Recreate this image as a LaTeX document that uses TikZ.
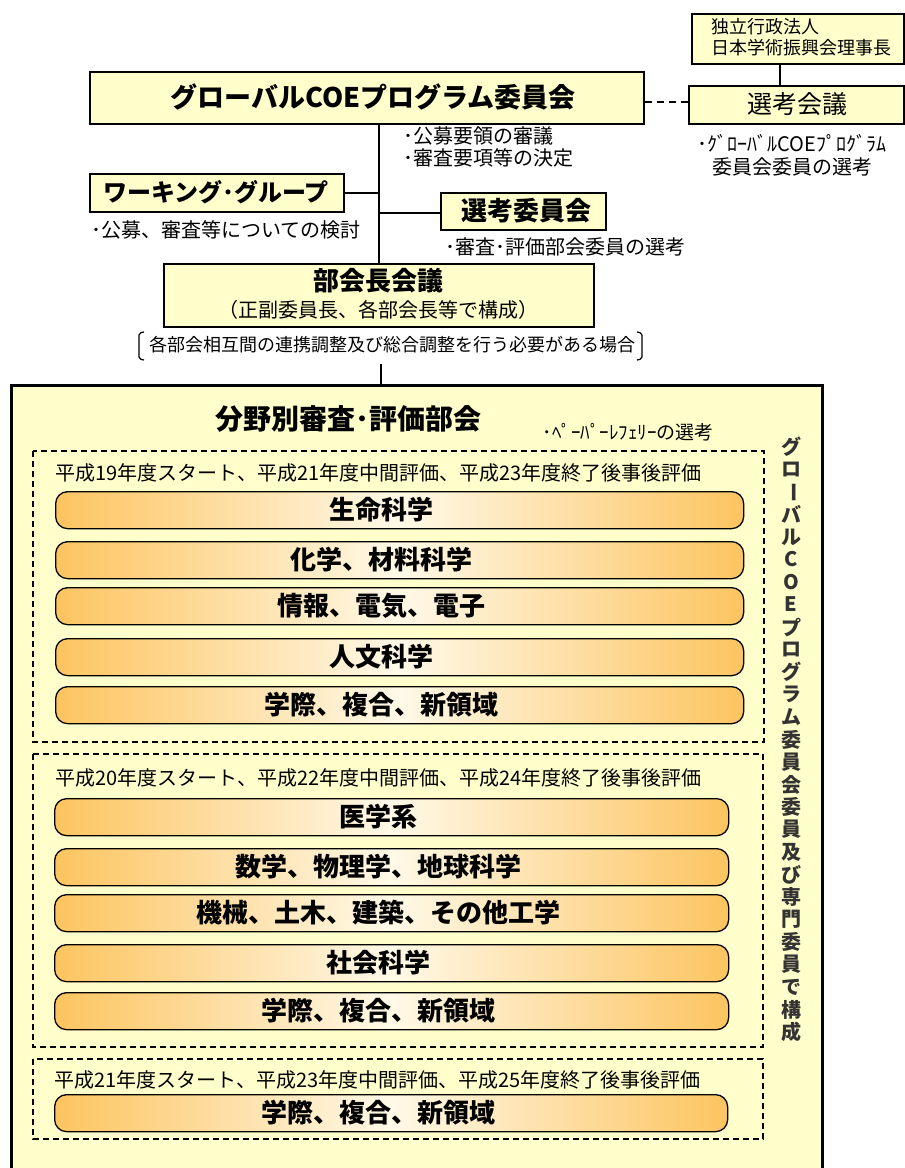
\documentclass[tikz,border=0pt]{standalone}
\usepackage{fontspec}
\usepackage{graphicx}
\setmainfont{Noto Sans CJK JP}
\definecolor{boxfill}{RGB}{255,255,204}
\definecolor{capor}{RGB}{252,196,96}
\definecolor{caplight}{RGB}{255,249,232}
\newcommand{\fs}[1]{\fontsize{#1}{#1}\selectfont}
\tikzset{
  ybox/.style={draw=black, line width=2.2pt, fill=boxfill, inner sep=0pt, anchor=north west},
  capsule/.style={draw=black, line width=1.3pt, rounded corners=12pt, left color=capor, right color=capor, middle color=caplight, inner sep=0pt, anchor=north west, minimum height=37pt},
  dbox/.style={draw=black, line width=1.2pt, dash pattern=on 6pt off 4pt},
  conn/.style={draw=black, line width=2pt},
  note/.style={inner sep=0pt, font=\fs{20}},
  caplbl/.style={inner sep=0pt, font=\fs{26}\bfseries},
  titlelbl/.style={inner sep=0pt, font=\fs{26}\bfseries},
}
\begin{document}
\begin{tikzpicture}[x=1pt,y=-1pt]
\useasboundingbox (0,0) rectangle (905,1168);
\clip (0,0) rectangle (905,1168);

% top boxes
\node[ybox, minimum width=212pt, minimum height=50pt] (jsps) at (691,13) {};
\node[inner sep=0pt, anchor=west, align=left, font=\fontsize{18}{21}\selectfont] (jspst) at (711,37) {独立行政法人\\日本学術振興会理事長};
\node[ybox, minimum width=215pt, minimum height=38pt] (senkou) at (688,85) {};
\node[inner sep=0pt, font=\fs{25}] (senkout) at (797,104) {選考会議};
\node[ybox, minimum width=554pt, minimum height=52pt] (gcoe) at (89,71) {};
\node[inner sep=0pt, font=\fs{27}\bfseries] (gcoet) at (373,97) {グローバルCOEプログラム委員会};

\node[note, anchor=west] (n1) at (403,136) {･公募要領の審議};
\node[note, anchor=west] (n2) at (403,158) {･審査要項等の決定};
\node[note] (n3) at (792,143) {･ｸﾞﾛｰﾊﾞﾙCOEﾌﾟﾛｸﾞﾗﾑ};
\node[note] (n4) at (792,167) {委員会委員の選考};

\node[ybox, minimum width=254pt, minimum height=38pt] (wg) at (89,173) {};
\node[titlelbl, font=\fs{24}\bfseries] (wgt) at (216,192) {ワーキング･グループ};
\node[note, anchor=west] (n5) at (91,230) {･公募、審査等についての検討};

\node[ybox, minimum width=165pt, minimum height=37pt] (senkoui) at (440,192) {};
\node[titlelbl] (senkouit) at (526,211) {選考委員会};
\node[note, anchor=west] (n6) at (445,247) {･審査･評価部会委員の選考};

\node[ybox, minimum width=430pt, minimum height=63pt] (bukai) at (163,263) {};
\node[titlelbl] (bukait) at (378,281) {部会長会議};
\node[note] (bukais) at (378,310) {（正副委員長、各部会長等で構成）};

\node[inner sep=0pt, font=\fs{18}] (brk) at (392,345) {各部会相互間の連携調整及び総合調整を行う必要がある場合};
\draw[line width=1.2pt, rounded corners=2pt] (144,332) -- (139,333) -- (139,359) -- (144,360);
\draw[line width=1.2pt, rounded corners=2pt] (637,332) -- (642,333) -- (642,359) -- (637,360);

% connectors
\coordinate (vx) at (780,0);
\coordinate (dl) at (0,102);
\coordinate (tr) at (379,0);
\coordinate (tr2) at (381,0);
\coordinate (brkb) at (0,364);
\coordinate (sy) at (0,213);
\draw[conn] (jsps.south -| vx) -- (senkou.north -| vx);
\draw[line width=1.5pt, dash pattern=on 7pt off 5pt] (gcoe.east |- dl) -- (senkou.west |- dl);
\draw[conn] (gcoe.south -| tr) -- (bukai.north -| tr);
\draw[conn] (wg.east) -- (wg.east -| tr);
\draw[conn] (senkoui.west |- sy) -- (tr |- sy);

% big area
\node[ybox, line width=2.8pt, minimum width=811pt, minimum height=800pt] (big) at (10,384) {};
\draw[conn] (brkb -| tr2) -- (big.north -| tr2);

\node[inner sep=0pt, font=\fs{28}\bfseries] (bigt) at (348,419) {分野別審査･評価部会};
\node[inner sep=0pt, font=\fs{19}] (pr) at (628,432) {･ﾍﾟｰﾊﾟｰﾚﾌｪﾘｰの選考};

% group 1
\draw[dbox] (33,451) rectangle (764,742);
\node[note, anchor=west] (h1) at (55,473) {平成19年度スタート、平成21年度中間評価、平成23年度終了後事後評価};
\node[capsule, minimum width=688pt] (a1) at (55,491) {};
\node[capsule, minimum width=688pt] (a2) at (55,541) {};
\node[capsule, minimum width=688pt] (a3) at (55,587) {};
\node[capsule, minimum width=688pt] (a4) at (55,638) {};
\node[capsule, minimum width=688pt] (a5) at (55,686) {};
\node[caplbl] (a1t) at (381,509.5) {生命科学};
\node[caplbl] (a2t) at (381,559.5) {化学、材料科学};
\node[caplbl] (a3t) at (381,605.5) {情報、電気、電子};
\node[caplbl] (a4t) at (381,656.5) {人文科学};
\node[caplbl] (a5t) at (381,704.5) {学際、複合、新領域};

% group 2
\draw[dbox] (33,754) rectangle (763,1047);
\node[note, anchor=west] (h2) at (55,778) {平成20年度スタート、平成22年度中間評価、平成24年度終了後事後評価};
\node[capsule, minimum width=674pt] (b1) at (54,798) {};
\node[capsule, minimum width=674pt] (b2) at (54,848) {};
\node[capsule, minimum width=674pt] (b3) at (54,894) {};
\node[capsule, minimum width=674pt] (b4) at (54,944) {};
\node[capsule, minimum width=674pt] (b5) at (54,992) {};
\node[caplbl] (b1t) at (378,816.5) {医学系};
\node[caplbl] (b2t) at (378,866.5) {数学、物理学、地球科学};
\node[caplbl] (b3t) at (378,912.5) {機械、土木、建築、その他工学};
\node[caplbl] (b4t) at (378,962.5) {社会科学};
\node[caplbl] (b5t) at (378,1010.5) {学際、複合、新領域};

% group 3
\draw[dbox] (33,1059) rectangle (763,1139);
\node[note, anchor=west] (h3) at (54,1080) {平成21年度スタート、平成23年度中間評価、平成25年度終了後事後評価};
\node[capsule, minimum width=673pt] (c1) at (54,1094) {};
\node[caplbl] (c1t) at (378,1112.5) {学際、複合、新領域};

% vertical text
\foreach \c [count=\i from 0] in {グ,ロ,{\rotatebox[origin=c]{-90}{ー}},バ,ル,C,O,E,プ,ロ,グ,ラ,ム,委,員,会,委,員,及,び,専,門,委,員,で,構,成}
  \node[inner sep=0pt, font=\fs{20}\bfseries, text=black!80] (v\i) at (791,447+22.5*\i) {\c};
\end{tikzpicture}
\end{document}
